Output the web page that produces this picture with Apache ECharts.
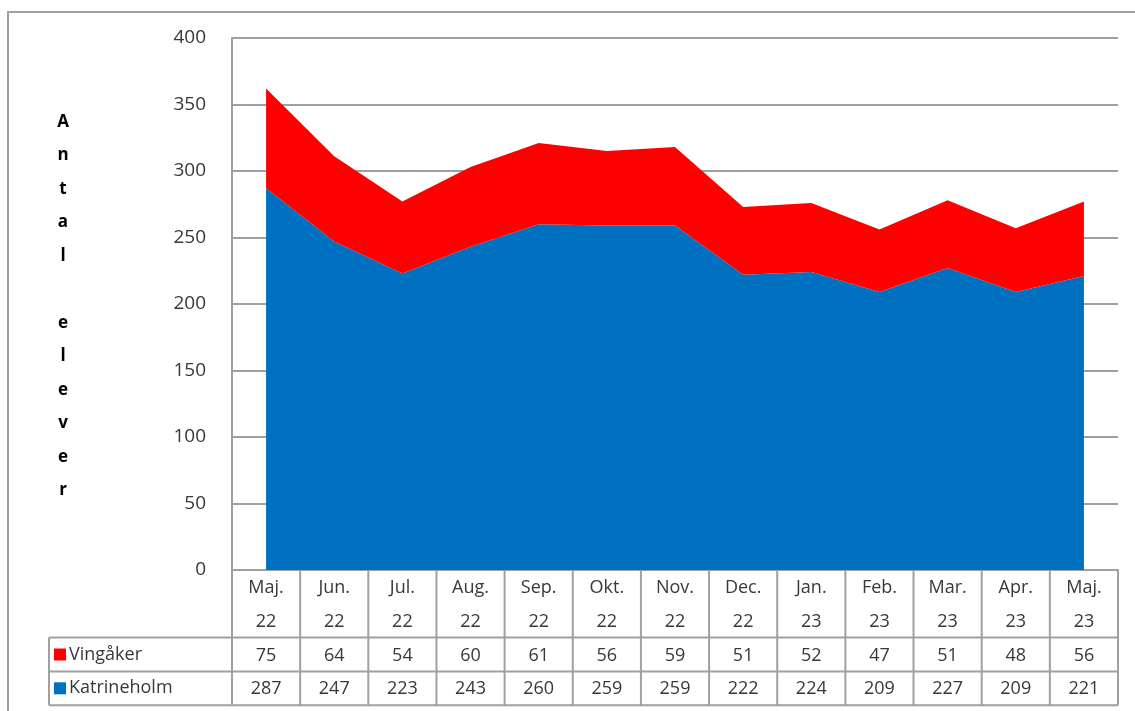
<!DOCTYPE html>
<html>
<head>
<meta charset="utf-8">
<script src="https://cdn.jsdelivr.net/npm/echarts@6/dist/echarts.min.js"></script>
<style>
  html, body { margin: 0; padding: 0; background: #fff; }
  #chart { width: 1135px; height: 711px; }
</style>
</head>
<body>
<div id="chart"></div>
<script>
// månader (två rader i tabellhuvudet)
const months = ['Maj.', 'Jun.', 'Jul.', 'Aug.', 'Sep.', 'Okt.', 'Nov.', 'Dec.', 'Jan.', 'Feb.', 'Mar.', 'Apr.', 'Maj.']
const years = ['22', '22', '22', '22', '22', '22', '22', '22', '23', '23', '23', '23', '23']
const katrineholm = [287, 247, 223, 243, 260, 259, 259, 222, 224, 209, 227, 209, 221]
const vingaker = [75, 64, 54, 60, 61, 56, 59, 51, 52, 47, 51, 48, 56]
const yTicks = [0, 50, 100, 150, 200, 250, 300, 350, 400]
const yTitle = 'Antal elever'

const font = "'Open Sans', sans-serif"
const grey = '#a0a0a0'
const blue = '#0070c0'
const red = '#ff0000'

const gridL = 232, gridR = 1118, gridT = 38, gridB = 570
const rowH = 33.8

let myChart = echarts.init(document.getElementById('chart'))

const option = {
    animation: false,
    grid: { left: gridL, right: 1135 - gridR, top: gridT, bottom: 711 - gridB },
    xAxis: {
        type: 'category',
        data: months.map((m, i) => i),
        boundaryGap: true,
        axisLine: { show: true, lineStyle: { color: grey, width: 2 } },
        axisTick: { show: false },
        axisLabel: {
            margin: 1,
            interval: 0,
            fontFamily: font,
            fontSize: 18,
            color: '#383838',
            lineHeight: rowH,
            formatter: function (v) {
                const i = +v
                return months[i] + '\n' + years[i] + '\n' + vingaker[i] + '\n' + katrineholm[i]
            }
        }
    },
    yAxis: {
        type: 'value',
        min: yTicks[0],
        max: yTicks[yTicks.length - 1],
        interval: 50,
        axisLine: { show: true, lineStyle: { color: grey, width: 2 } },
        axisTick: { show: false },
        axisLabel: {
            margin: 26,
            fontFamily: font,
            fontSize: 19,
            color: '#383838'
        },
        splitLine: { lineStyle: { color: grey, width: 2 } }
    },
    series: [
        {
            name: 'Katrineholm',
            type: 'line',
            stack: 'total',
            data: katrineholm,
            symbol: 'none',
            lineStyle: { width: 0 },
            areaStyle: { color: blue, opacity: 1 },
            z: 2
        },
        {
            name: 'Vingåker',
            type: 'line',
            stack: 'total',
            data: vingaker,
            symbol: 'none',
            lineStyle: { width: 0 },
            areaStyle: { color: red, opacity: 1 },
            z: 2
        }
    ]
}

myChart.setOption(option)

// tabellens ramar och förklaring
const colW = (gridR - gridL) / months.length
const tableB = gridB + rowH * 4
const tableLeft = 49
let g = []
const line = (x1, y1, x2, y2) => ({
    type: 'line', silent: true,
    shape: { x1, y1, x2, y2 },
    style: { stroke: grey, lineWidth: 2 }
})
for (let i = 0; i <= months.length; i++) {
    const x = gridL + i * colW
    g.push(line(x, gridB, x, tableB))
}
for (let r = 2; r <= 4; r++) {
    const y = gridB + rowH * r
    g.push(line(tableLeft, y, gridR, y))
}
g.push(line(tableLeft, gridB + rowH * 2, tableLeft, tableB))
// ytterram
g.push({
    type: 'rect', silent: true,
    shape: { x: 8, y: 12, width: 1140, height: 720 },
    style: { fill: 'none', stroke: grey, lineWidth: 2 }
})
const legendRows = [['Vingåker', red], ['Katrineholm', blue]]
legendRows.forEach((r, k) => {
    const cy = gridB + rowH * (2.5 + k)
    g.push({ type: 'rect', silent: true, shape: { x: 54, y: cy - 6, width: 12, height: 12 }, style: { fill: r[1] } })
    g.push({
        type: 'text', silent: true, x: 69, y: cy,
        style: { text: r[0], fontFamily: font, fontSize: 18, fill: '#383838', verticalAlign: 'middle' }
    })
})
// y-axelns titel, en bokstav per rad
g.push({
    type: 'text', silent: true, x: 63, y: (gridT + gridB) / 2 + 2,
    style: {
        text: yTitle.split('').join('\n'),
        fontFamily: font, fontSize: 17, fontWeight: 'bold', fill: '#000',
        lineHeight: 33.5, align: 'center', verticalAlign: 'middle'
    }
})

myChart.setOption({ graphic: g })
</script>
</body>
</html>
